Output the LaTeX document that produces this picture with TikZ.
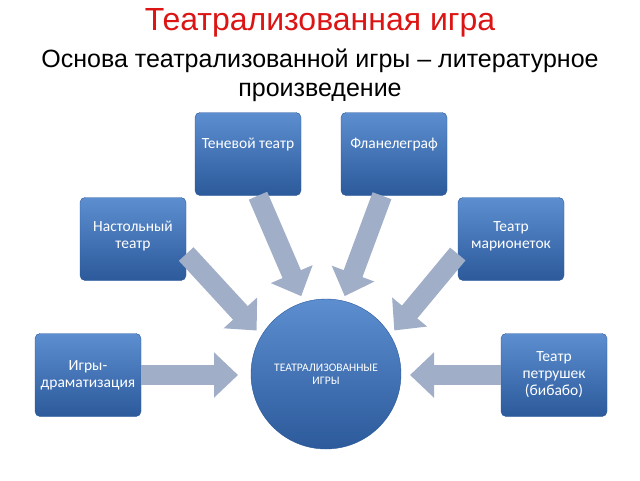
\documentclass[tikz,border=0pt]{standalone}
\usepackage{fontspec}
\setmainfont{Liberation Sans}
\newfontfamily\boxfont{Carlito}
\usetikzlibrary{positioning}
\usetikzlibrary{arrows.meta}
\definecolor{titlered}{RGB}{220,20,20}
\definecolor{boxtop}{RGB}{92,142,208}
\definecolor{boxbot}{RGB}{44,90,155}
\definecolor{arrowgray}{RGB}{160,174,200}
\begin{document}
\begin{tikzpicture}[x=1pt,y=-1pt]
	\tikzset{theatre/.style = {shape=rectangle, rounded corners=5pt, draw=boxbot, top color=boxtop, bottom color=boxbot,
			minimum width=106pt, minimum height=83pt, text=white, align=center, font=\boxfont\fontsize{15.5}{17}\selectfont},
		feed/.style = {draw=arrowgray, line width=20pt, -{Triangle[length=24pt,width=44pt]}, shorten >=2pt}}
	\useasboundingbox (0,0) rectangle (640,480);
	
	\node[text=titlered, font=\fontsize{32}{36}\selectfont] (TITLE) at (320,23) {Театрализованная игра};
	\node[align=center, font=\fontsize{25}{29}\selectfont] (SUB) at (320,75)
	{Основа театрализованной игры -- литературное\\ произведение};
	
	\node[theatre, text depth=22pt] (SHADOW) at (248,154) {Теневой театр};
	\node[theatre, text depth=22pt] (FLANNEL) at (394,154) {Фланелеграф};
	\node[theatre, text depth=8pt] (TABLE) at (133,239) {Настольный\\театр};
	\node[theatre, text depth=8pt] (PUPPET) at (511,239) {Театр\\марионеток};
	\node[theatre] (DRAMA) at (88,375) {Игры-\\драматизация};
	\node[theatre] (PETR) at (554,375) {Театр\\петрушек\\(бибабо)};
	
	\node[shape=circle, draw=boxbot, top color=boxtop, bottom color=boxbot, minimum size=150pt, text=white,
	align=center, font=\boxfont\fontsize{11.5}{13}\selectfont] (GAMES) at (326,374) {ТЕАТРАЛИЗОВАННЫЕ\\ИГРЫ};
	
	\coordinate (inL) at (240,375);
	\coordinate (inR) at (408,375);
	\coordinate (inTL) at (258,332);
	\coordinate (inTR) at (393,332);
	\coordinate (inSH) at (302,298);
	\coordinate (inFL) at (344,298);
	
	\draw[feed] (DRAMA.east) -- (inL);
	\draw[feed] (PETR.west) -- (inR);
	\draw[feed] ([yshift=-15pt]TABLE.east) -- (inTL);
	\draw[feed] ([yshift=-15pt]PUPPET.west) -- (inTR);
	\draw[feed] ([xshift=10pt]SHADOW.south) -- (inSH);
	\draw[feed] ([xshift=-12pt]FLANNEL.south) -- (inFL);
\end{tikzpicture}
\end{document}
